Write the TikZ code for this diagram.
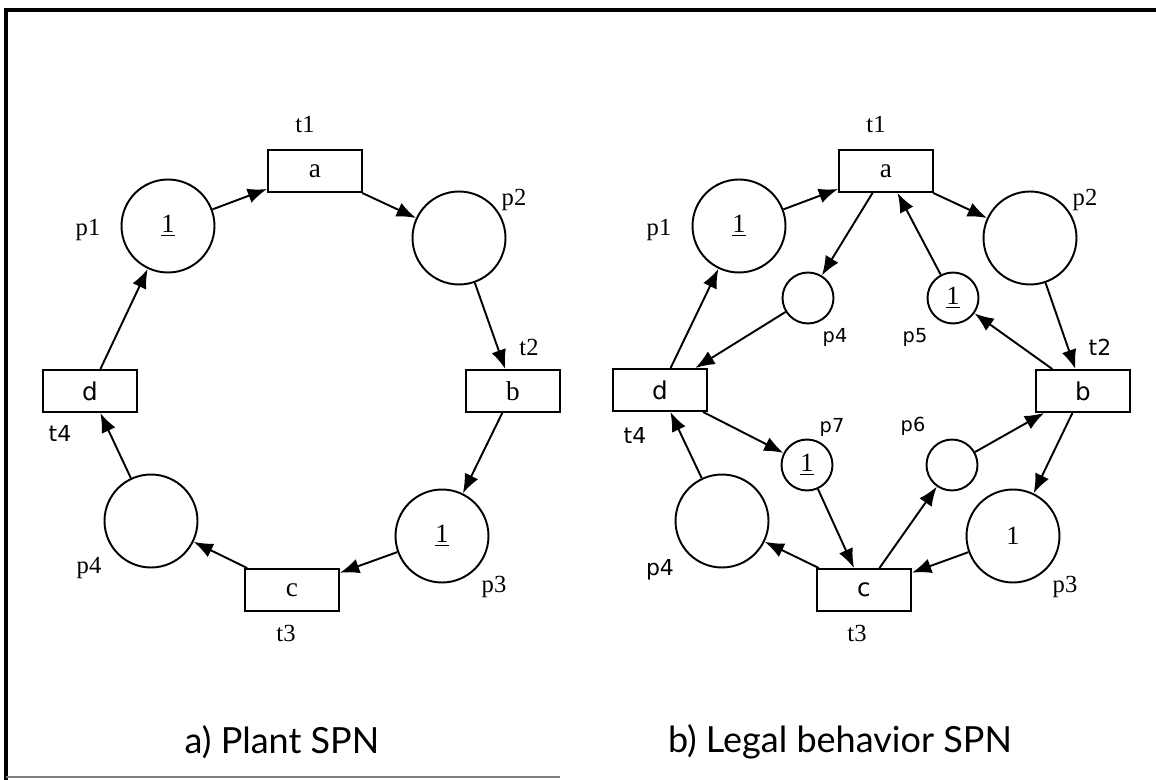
\documentclass[tikz,border=0pt]{standalone}
\usepackage{fontspec}
\setmainfont{Liberation Serif}
\setsansfont{DejaVu Sans}
\newfontfamily\captionfont{Lato}
\usetikzlibrary{arrows.meta}
\tikzstyle{place} =
        [
                circle,
                draw,
                line width = 1.1pt,
                minimum size = 1.86cm,
                inner sep = 0pt,
                font = \fontsize{15}{15}\selectfont
        ]
\tikzstyle{subplace} =
        [
                place,
                minimum size = 1.02cm
        ]
\tikzstyle{transition} =
        [
                rectangle,
                draw,
                line width = 1.1pt,
                minimum width = 1.88cm,
                minimum height = 0.84cm,
                inner sep = 0pt,
                font = \fontsize{15.5}{15.5}\selectfont
        ]
\tikzstyle{sftransition} =
        [
                transition,
                font = \sffamily\fontsize{14}{14}\selectfont
        ]
\tikzstyle{line} =
        [
                draw,
                line width = 1.1pt,
                -{Latex[length = 11pt, width = 8.5pt]}
        ]
\tikzstyle{tag} =
        [
                inner sep = 0pt,
                font = \fontsize{14}{14}\selectfont
        ]
\tikzstyle{sftag} =
        [
                inner sep = 0pt,
                font = \sffamily\fontsize{12.5}{12.5}\selectfont
        ]
\tikzstyle{smalltag} =
        [
                inner sep = 0pt,
                font = \sffamily\fontsize{11}{11}\selectfont
        ]
\tikzstyle{caption} =
        [
                inner sep = 0pt,
                font = \captionfont\fontsize{20.5}{20.5}\selectfont
        ]

\begin{document}
\begin{tikzpicture}[x = 0.02cm, y = -0.02cm]
        \useasboundingbox (0,0) rectangle (1156,780);
        % frame
        \draw [line width = 2.2pt] (6,780) -- (6,10) -- (1156,10);
        \draw [gray, line width = 1pt] (6,777) -- (560,777);

        % plant net
        \node [transition] (lt1) at (315,171) {a};
        \node [place] (lp1) at (168,226) {\underline{1}};
        \node [place] (lp2) at (459,238) {};
        \node [transition] (lt2) at (513,391) {b};
        \node [place] (lp3) at (442,536) {\underline{1}};
        \node [transition] (lt3) at (292,590) {c};
        \node [place] (lp4) at (151,521) {};
        \node [sftransition] (lt4) at (90,391) {d};

        \node [tag] (lt1tag) at (305,125) {t1};
        \node [tag] (lp1tag) at (88,230) {p1};
        \node [tag] (lp2tag) at (514,200) {p2};
        \node [tag] (lt2tag) at (529,347) {t2};
        \node [tag] (lp3tag) at (494,587) {p3};
        \node [tag] (lt3tag) at (286,633) {t3};
        \node [tag] (lp4tag) at (89,568) {p4};
        \node [sftag] (lt4tag) at (60,433) {t4};

        \path [line] (lp1) -- (lt1);
        \path [line] (lt1) -- (lp2);
        \path [line] (lp2) -- (lt2);
        \path [line] (lt2) -- (lp3);
        \path [line] (lp3) -- (lt3);
        \path [line] (lt3) -- (lp4);
        \path [line] (lp4) -- (lt4);
        \path [line] (lt4) -- (lp1);

        % legal behavior net
        \node [transition] (rt1) at (886,171) {a};
        \node [place] (rp1) at (739,226) {\underline{1}};
        \node [place] (rp2) at (1030,238) {};
        \node [sftransition] (rt2) at (1083,391) {b};
        \node [place] (rp3) at (1013,536) {1};
        \node [sftransition] (rt3) at (864,590) {c};
        \node [place] (rp4) at (722,521) {};
        \node [sftransition] (rt4) at (660,390) {d};
        \node [subplace] (rq4) at (808,298) {};
        \node [subplace] (rq5) at (953,298) {\underline{1}};
        \node [subplace] (rq6) at (952,465) {};
        \node [subplace] (rq7) at (807,465) {\underline{1}};

        \node [tag] (rt1tag) at (876,125) {t1};
        \node [tag] (rp1tag) at (659,230) {p1};
        \node [tag] (rp2tag) at (1085,200) {p2};
        \node [sftag] (rt2tag) at (1100,347) {t2};
        \node [tag] (rp3tag) at (1065,587) {p3};
        \node [tag] (rt3tag) at (857,633) {t3};
        \node [sftag] (rp4tag) at (660,570) {p4};
        \node [sftag] (rt4tag) at (635,435) {t4};
        \node [smalltag] (rq4tag) at (835,337) {p4};
        \node [smalltag] (rq5tag) at (915,337) {p5};
        \node [smalltag] (rq6tag) at (913,426) {p6};
        \node [smalltag] (rq7tag) at (832,427) {p7};

        \path [line] (rp1) -- (rt1);
        \path [line] (rt1) -- (rp2);
        \path [line] (rp2) -- (rt2);
        \path [line] (rt2) -- (rp3);
        \path [line] (rp3) -- (rt3);
        \path [line] (rt3) -- (rp4);
        \path [line] (rp4) -- (rt4);
        \path [line] (rt4) -- (rp1);
        \path [line] (rt1) -- (rq4);
        \path [line] (rq4) -- (rt4);
        \path [line] (rt4) -- (rq7);
        \path [line] (rq7) -- (rt3);
        \path [line] (rt3) -- (rq6);
        \path [line] (rq6) -- (rt2);
        \path [line] (rt2) -- (rq5);
        \path [line] (rq5) -- (rt1);

        \node [caption] (plantcap) at (282,742) {a) Plant SPN};
        \node [caption] (legalcap) at (840,742) {b) Legal behavior SPN};
\end{tikzpicture}
\end{document}
